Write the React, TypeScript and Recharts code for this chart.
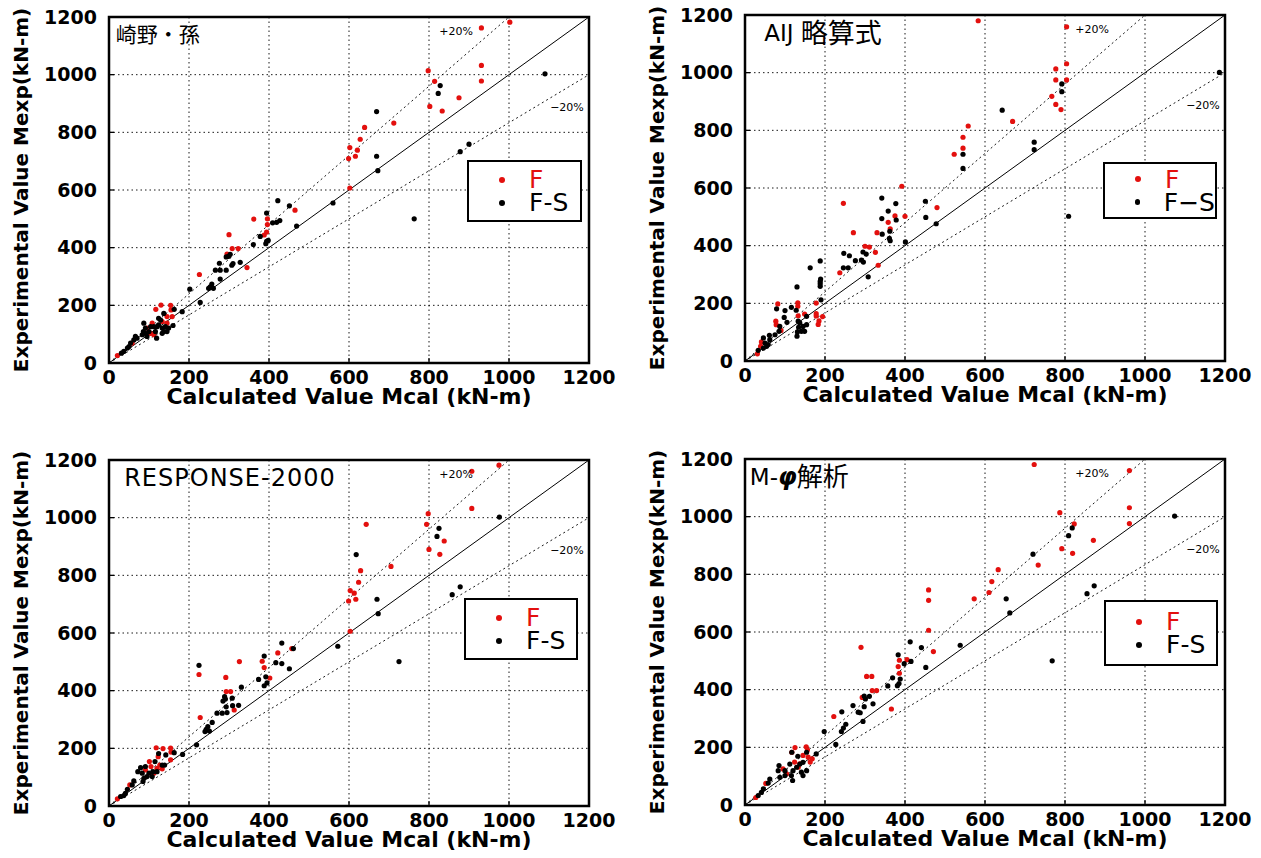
import React from 'react';
import {
  ScatterChart,
  Scatter,
  XAxis,
  YAxis,
  CartesianGrid,
  ReferenceLine,
  ReferenceArea,
  ReferenceDot,
  Legend,
} from 'recharts';

type Pt = [number, number];

const axisTicks = [0, 200, 400, 600, 800, 1000, 1200];

// 崎野・孫
const sakinoF: Pt[] = [
  [21, 26], [465, 530], [362, 499], [396, 500], [396, 480], [394, 454], [388, 444], [300, 445],
  [308, 397], [323, 397], [295, 378], [345, 331], [226, 307], [130, 201], [117, 186], [154, 200],
  [158, 161], [145, 161], [155, 184], [108, 138], [95, 121], [104, 103], [145, 138], [133, 144],
  [58, 69], [112, 98], [931, 1162], [1002, 1182], [931, 1032], [931, 978], [798, 1014], [814, 977],
  [875, 920], [802, 890], [833, 874], [712, 832], [639, 817], [628, 776], [602, 747], [621, 738],
  [616, 717], [599, 709], [602, 607],
];
const sakinoFS: Pt[] = [
  [422, 563], [451, 545], [469, 475], [394, 520], [427, 494], [419, 488], [409, 486], [378, 439],
  [394, 422], [398, 425], [392, 414], [361, 411], [299, 370], [303, 377], [293, 368], [276, 346],
  [310, 345], [307, 339], [328, 349], [266, 322], [278, 322], [293, 322], [278, 291], [257, 274],
  [253, 264], [249, 259], [261, 259], [202, 256], [228, 210], [183, 178], [163, 186], [137, 172],
  [160, 130], [129, 149], [124, 132], [120, 126], [133, 121], [137, 109], [141, 126], [116, 109],
  [112, 126], [104, 126], [87, 138], [91, 103], [83, 98], [95, 92], [86, 109], [119, 86], [66, 92],
  [62, 80], [50, 57], [46, 52], [37, 40], [31, 34], [54, 69], [145, 109], [149, 121], [124, 155],
  [133, 103], [70, 86], [91, 121], [100, 109], [1090, 1003], [828, 962], [823, 935], [669, 872],
  [669, 717], [672, 667], [900, 759], [878, 733], [560, 555], [763, 500],
];

// AIJ 略算式
const aijF: Pt[] = [
  [392, 606], [246, 547], [480, 532], [400, 502], [375, 503], [358, 481], [363, 458], [271, 445],
  [330, 445], [300, 398], [311, 395], [326, 377], [333, 332], [237, 306], [178, 201], [132, 202],
  [82, 198], [132, 190], [133, 157], [149, 163], [178, 164], [178, 156], [194, 154], [185, 139],
  [183, 127], [77, 138], [78, 126], [90, 106], [41, 66], [39, 51], [31, 25], [583, 1180],
  [804, 1159], [804, 1031], [777, 1013], [777, 975], [804, 975], [767, 918], [777, 890], [790, 872],
  [669, 831], [558, 815], [545, 776], [545, 738], [523, 717],
];
const aijFS: Pt[] = [
  [342, 565], [377, 546], [358, 520], [342, 494], [378, 489], [451, 554], [452, 498], [478, 476],
  [343, 440], [362, 450], [361, 425], [363, 417], [401, 413], [247, 373], [261, 365], [276, 348],
  [295, 378], [303, 371], [291, 350], [296, 343], [308, 292], [246, 323], [258, 323], [188, 347],
  [163, 323], [188, 276], [188, 268], [188, 259], [189, 284], [190, 212], [130, 257], [116, 186],
  [128, 176], [100, 175], [79, 181], [98, 151], [105, 134], [87, 120], [133, 138], [137, 132],
  [145, 120], [154, 126], [141, 103], [149, 103], [130, 86], [134, 117], [131, 101], [154, 155],
  [85, 103], [75, 91], [61, 89], [62, 74], [46, 80], [50, 62], [54, 51], [46, 45], [58, 57],
  [33, 37], [1186, 1001], [792, 961], [792, 934], [643, 870], [723, 759], [723, 733], [545, 717],
  [545, 668], [809, 502],
];

// RESPONSE-2000
const responseF: Pt[] = [
  [422, 531], [457, 546], [326, 501], [383, 502], [388, 480], [402, 444], [225, 456], [292, 446],
  [293, 397], [304, 397], [313, 333], [228, 307], [118, 202], [135, 199], [154, 201], [155, 187],
  [123, 171], [101, 154], [105, 137], [127, 142], [112, 114], [120, 131], [133, 129], [91, 125],
  [154, 160], [21, 25], [52, 73], [975, 1182], [907, 1161], [907, 1032], [798, 1014], [794, 977],
  [643, 977], [838, 919], [800, 890], [827, 873], [705, 831], [629, 816], [624, 776], [603, 747],
  [613, 738], [617, 717], [599, 711], [603, 606],
];
const responseFS: Pt[] = [
  [432, 565], [461, 546], [417, 497], [432, 494], [451, 476], [388, 520], [374, 439], [392, 448],
  [395, 427], [388, 417], [331, 412], [225, 488], [289, 379], [291, 371], [285, 364], [308, 374],
  [293, 344], [309, 348], [324, 349], [270, 322], [283, 322], [295, 324], [258, 290], [247, 275],
  [243, 266], [240, 258], [251, 260], [219, 212], [184, 179], [163, 185], [142, 177], [124, 182],
  [139, 142], [133, 142], [120, 119], [115, 154], [110, 119], [108, 102], [95, 102], [87, 96],
  [83, 114], [79, 133], [91, 137], [85, 85], [62, 87], [58, 73], [46, 58], [41, 44], [37, 36],
  [29, 33], [72, 119], [100, 114], [976, 1002], [825, 963], [820, 935], [618, 872], [670, 717],
  [673, 667], [878, 760], [858, 733], [572, 554], [725, 501],
];

// M-φ解析
const mphiF: Pt[] = [
  [459, 606], [290, 547], [471, 532], [405, 504], [386, 502], [383, 480], [386, 457], [304, 446],
  [317, 446], [318, 397], [329, 397], [293, 373], [366, 333], [222, 307], [125, 199], [153, 202],
  [156, 191], [117, 183], [145, 172], [158, 166], [168, 160], [163, 149], [137, 143], [124, 149],
  [133, 131], [95, 125], [104, 108], [52, 75], [27, 26], [723, 1181], [961, 1160], [961, 1031],
  [961, 976], [787, 1014], [823, 975], [871, 918], [792, 889], [819, 873], [733, 832], [633, 816],
  [617, 775], [610, 737], [573, 715], [459, 746], [459, 710],
];
const mphiFS: Pt[] = [
  [413, 566], [441, 546], [383, 521], [398, 490], [415, 498], [452, 477], [369, 441], [388, 437],
  [385, 421], [381, 414], [357, 413], [298, 378], [301, 368], [311, 377], [320, 351], [298, 341],
  [270, 345], [283, 322], [288, 320], [242, 323], [295, 290], [252, 280], [246, 267], [241, 255],
  [198, 255], [227, 210], [178, 177], [154, 183], [132, 169], [117, 183], [145, 148], [137, 142],
  [129, 131], [120, 119], [116, 102], [100, 102], [87, 96], [85, 137], [112, 142], [145, 102],
  [141, 114], [119, 85], [62, 90], [58, 76], [46, 56], [41, 44], [33, 33], [83, 119], [100, 119],
  [154, 119], [1074, 1002], [818, 961], [809, 934], [720, 870], [653, 715], [662, 666], [873, 760],
  [855, 733], [538, 554], [768, 500],
];

const RED = '#e3100e';
const SANS = "'DejaVu Sans', 'Noto Sans CJK JP', sans-serif";

const toPts = (a: Pt[]) => a.map(([x, y]) => ({ x, y }));

const Dot = (props: any) => <circle cx={props.cx} cy={props.cy} r={2.6} fill={props.fill} />;

const titleLabel = (parts: React.ReactNode) => (p: any) => (
  <text
    x={p.viewBox.x}
    y={p.viewBox.y}
    dominantBaseline="central"
    fontSize={21}
    fontFamily={SANS}
    fill="#000"
  >
    {parts}
  </text>
);

const pctLabel = (txt: string) => ({
  value: txt,
  position: 'center' as const,
  fontSize: 11,
  fontFamily: SANS,
  fill: '#000',
});

const tickFont = { fill: '#000', fontSize: 19, fontWeight: 'bold', fontFamily: SANS };
const tickStroke = { stroke: '#000', strokeWidth: 1.3 };

interface PanelProps {
  title: React.ReactNode;
  titleX: number;
  f: Pt[];
  fs: Pt[];
  fsName: string;
  left: number;
  top: number;
  box: { left: number; top: number; width: number; height: number };
}

function Panel({ title, titleX, f, fs, fsName, left, top, box }: PanelProps) {
  const legendContent = () => (
    <div
      style={{
        boxSizing: 'border-box',
        width: box.width,
        height: box.height,
        border: '2.5px solid #000',
        background: '#fff',
        fontFamily: SANS,
        fontSize: 25,
        lineHeight: '23px',
        paddingTop: (box.height - 50) / 2,
      }}
    >
      {[
        { name: 'F', color: RED },
        { name: fsName, color: '#000' },
      ].map((it) => (
        <div key={it.name} style={{ display: 'flex', alignItems: 'center', height: 23 }}>
          <span
            style={{
              display: 'inline-block',
              width: 6,
              height: 6,
              borderRadius: 3,
              background: it.color,
              marginLeft: 30,
              marginRight: 24,
            }}
          />
          <span style={{ color: it.color }}>{it.name}</span>
        </div>
      ))}
    </div>
  );

  return (
    <div style={{ position: 'absolute', left, top }}>
      <ScatterChart width={625} height={430} margin={{ top: 17, right: 36, bottom: 0, left: 0 }}>
        <CartesianGrid stroke="#000" strokeDasharray="1.5 3" strokeWidth={0.9} />
        <XAxis
          type="number"
          dataKey="x"
          domain={[0, 1200]}
          ticks={axisTicks}
          allowDataOverflow
          height={67}
          axisLine={false}
          tickLine={tickStroke}
          tickSize={-5}
          tickMargin={13}
          tick={tickFont}
          label={{
            value: 'Calculated Value Mcal (kN-m)',
            position: 'insideBottom',
            offset: 26,
            fill: '#000',
            fontSize: 22,
            fontWeight: 'bold',
            fontFamily: SANS,
          }}
        />
        <XAxis
          xAxisId="top"
          orientation="top"
          type="number"
          domain={[0, 1200]}
          ticks={axisTicks}
          allowDataOverflow
          height={0}
          axisLine={false}
          tickLine={tickStroke}
          tickSize={-5}
          tick={false}
        />
        <YAxis
          type="number"
          dataKey="y"
          domain={[0, 1200]}
          ticks={axisTicks}
          allowDataOverflow
          width={109}
          axisLine={false}
          tickLine={tickStroke}
          tickSize={-5}
          tickMargin={17}
          tick={tickFont}
          label={{
            value: 'Experimental Value Mexp(kN-m)',
            angle: -90,
            position: 'insideLeft',
            offset: 21,
            fill: '#000',
            fontSize: 20,
            fontWeight: 'bold',
            fontFamily: SANS,
            style: { textAnchor: 'middle' },
          }}
        />
        <YAxis
          yAxisId="right"
          orientation="right"
          type="number"
          domain={[0, 1200]}
          ticks={axisTicks}
          allowDataOverflow
          width={0}
          axisLine={false}
          tickLine={tickStroke}
          tickSize={-5}
          tick={false}
        />
        <ReferenceLine segment={[{ x: 0, y: 0 }, { x: 1200, y: 1200 }]} stroke="#000" strokeWidth={1} />
        <ReferenceLine
          segment={[{ x: 0, y: 0 }, { x: 1000, y: 1200 }]}
          stroke="#000"
          strokeWidth={0.9}
          strokeDasharray="2 3"
        />
        <ReferenceLine
          segment={[{ x: 0, y: 0 }, { x: 1200, y: 1000 }]}
          stroke="#000"
          strokeWidth={0.9}
          strokeDasharray="2 3"
        />
        <ReferenceDot x={868} y={1150} r={0} fill="none" stroke="none" label={pctLabel('+20%')} />
        <ReferenceDot x={1145} y={887} r={0} fill="none" stroke="none" label={pctLabel('\u221220%')} />
        <ReferenceDot x={titleX} y={1138} r={0} fill="none" stroke="none" label={titleLabel(title)} />
        <Scatter name="F" data={toPts(f)} fill={RED} shape={Dot} isAnimationActive={false} />
        <Scatter name={fsName} data={toPts(fs)} fill="#000" shape={Dot} isAnimationActive={false} />
        <ReferenceArea x1={0} x2={1200} y1={0} y2={1200} fill="none" stroke="#000" strokeWidth={2.5} />
        <Legend
          layout="horizontal"
          verticalAlign="middle"
          align="center"
          content={legendContent}
          wrapperStyle={{ left: box.left, top: box.top, width: box.width, height: box.height }}
        />
      </ScatterChart>
    </div>
  );
}

export default function App() {
  return (
    <div style={{ position: 'absolute', left: 0, top: 0, width: 1261, height: 858, background: '#fff' }}>
      <Panel
        title="崎野・孫"
        titleX={17}
        f={sakinoF}
        fs={sakinoFS}
        fsName="F-S"
        left={0}
        top={0}
        box={{ left: 467, top: 160, width: 115, height: 62 }}
      />
      <Panel
        title={
          <>
            <tspan fontSize={23}>AIJ </tspan>
            <tspan fontSize={27}>略算式</tspan>
          </>
        }
        titleX={48}
        f={aijF}
        fs={aijFS}
        fsName={'F\u2212S'}
        left={636}
        top={-2}
        box={{ left: 467, top: 164, width: 114, height: 57 }}
      />
      <Panel
        title={
          <tspan fontSize={24} letterSpacing={1}>
            RESPONSE-2000
          </tspan>
        }
        titleX={38}
        f={responseF}
        fs={responseFS}
        fsName="F-S"
        left={0}
        top={443}
        box={{ left: 464, top: 155, width: 114, height: 62 }}
      />
      <Panel
        title={
          <>
            <tspan fontSize={23}>M-</tspan>
            <tspan fontSize={24} fontStyle="italic" fontWeight="bold">
              φ
            </tspan>
            <tspan fontSize={26}>解析</tspan>
          </>
        }
        titleX={12}
        f={mphiF}
        fs={mphiFS}
        fsName="F-S"
        left={636}
        top={442}
        box={{ left: 468, top: 158, width: 114, height: 66 }}
      />
    </div>
  );
}
